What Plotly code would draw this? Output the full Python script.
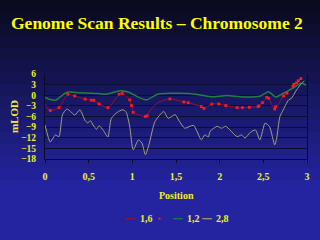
import plotly.graph_objects as go

# ---- data ----
x_16 = [0.0, 0.06, 0.16, 0.26, 0.34, 0.46, 0.53, 0.62, 0.72, 0.85, 0.885, 0.92, 0.97, 0.99, 1.01,
        1.15, 1.23, 1.30, 1.43, 1.59, 1.64, 1.79, 1.82, 1.91, 1.99, 2.07, 2.20, 2.26, 2.34, 2.44,
        2.49, 2.54, 2.56, 2.63, 2.73, 2.77, 2.84, 2.88, 2.93]
y_16 = [-2.5, -4.3, -3.5, 0.3, -0.2, -1.1, -1.4, -2.45, -3.5, 0.3, 0.56, 0.0, -1.3, -2.9, -4.8,
        -6.0, -3.5, -2.0, -1.05, -1.9, -2.1, -3.2, -3.7, -2.5, -2.45, -2.9, -3.5, -3.5, -3.4, -3.2,
        -2.1, -0.56, -0.85, -3.9, -0.2, 0.56, 2.6, 3.5, 4.7]

x_16m = [0.06, 0.16, 0.26, 0.34, 0.46, 0.53, 0.56, 0.62, 0.72, 0.85, 0.885, 0.97, 0.99, 1.01,
         1.15, 1.17, 1.43, 1.59, 1.64, 1.79, 1.82, 1.91, 1.99, 2.07, 2.20, 2.26, 2.34, 2.44, 2.45,
         2.49, 2.54, 2.56, 2.63, 2.64, 2.73, 2.77, 2.84, 2.85, 2.88, 2.90, 2.93]
y_16m = [-4.3, -3.5, 0.3, -0.2, -1.1, -1.4, -1.4, -2.45, -3.5, 0.3, 0.56, -1.3, -2.9, -4.8,
         -6.0, -5.8, -1.05, -1.9, -2.1, -3.2, -3.7, -2.5, -2.45, -2.9, -3.5, -3.5, -3.4, -3.2, -3.0,
         -2.1, -0.56, -0.85, -3.9, -3.2, -0.2, 0.56, 2.6, 3.1, 3.5, 4.1, 4.7]

x_12 = [0.0, 0.06, 0.12, 0.25, 0.40, 0.55, 0.70, 0.86, 0.97, 1.05, 1.16, 1.29, 1.45, 1.65, 1.80,
        1.91, 2.08, 2.27, 2.46, 2.56, 2.64, 2.73, 2.84, 2.93, 2.99]
y_12 = [-0.6, -1.2, -1.4, 0.85, 0.7, 0.6, 0.3, 1.3, 0.8, -0.3, -1.3, 0.3, 0.56, 0.5, 0.0,
        -0.4, -0.1, -0.5, -0.3, 1.0, -0.5, 0.56, 2.0, 3.4, 2.9]

x_28 = [0.0, 0.06, 0.10, 0.12, 0.16, 0.20, 0.25, 0.29, 0.34, 0.40, 0.46, 0.49, 0.52, 0.55, 0.59,
        0.62, 0.67, 0.72, 0.76, 0.84, 0.895, 0.93, 0.97, 1.01, 1.07, 1.11, 1.15, 1.19, 1.26, 1.36,
        1.41, 1.49, 1.54, 1.60, 1.70, 1.79, 1.83, 1.87, 1.89, 1.97, 2.02, 2.07, 2.20, 2.25, 2.29,
        2.35, 2.41, 2.46, 2.52, 2.57, 2.63, 2.65, 2.69, 2.72, 2.79, 2.82, 2.88, 2.94, 2.97]
y_28 = [-8.4, -13.2, -11.8, -11.2, -11.7, -5.5, -3.9, -4.5, -5.6, -4.1, -7.2, -7.8, -7.2, -8.4, -9.6,
        -8.6, -10.0, -11.8, -6.5, -4.6, -4.1, -4.8, -8.8, -15.4, -12.6, -13.5, -16.8, -14.0, -7.4, -4.6,
        -6.5, -5.5, -7.4, -9.3, -8.5, -12.6, -11.2, -11.8, -10.2, -8.8, -9.3, -8.8, -11.7, -11.2, -12.1,
        -10.5, -9.8, -12.6, -7.9, -8.8, -14.0, -12.5, -6.0, -4.5, -1.3, -0.9, 1.5, 3.4, 4.0]

series_names = ["1,6", "1,2", "2,8"]
x_ticks = [0, 0.5, 1, 1.5, 2, 2.5, 3]
x_tick_text = ["0", "0,5", "1", "1,5", "2", "2,5", "3"]
y_ticks = [6, 3, 0, -3, -6, -9, -12, -15, -18]

# ---- styling ----
RED_LINE = "#9a1038"
RED_MARK = "#ff1a1a"
GREEN = "#1f8040"
GRAY = "#a0a078"
YEL = "#f2f020"
FONT = "Liberation Serif"

W, H = 320, 240
L, R, T, B = 45, 13, 74, 81
PW, PH = W - L - R, H - T - B


def px2x(px):
    return (px - L) / PW


def py2y(py):
    return (H - B - py) / PH


fig = go.Figure()
fig.add_trace(go.Scatter(x=x_16, y=y_16, mode="lines", name=series_names[0],
                         line=dict(color=RED_LINE, width=1, shape="spline", smoothing=0.6),
                         showlegend=False))
fig.add_trace(go.Scatter(x=x_12, y=y_12, mode="lines", name=series_names[1],
                         line=dict(color=GREEN, width=1.5, shape="spline", smoothing=0.6),
                         showlegend=False))
fig.add_trace(go.Scatter(x=x_28, y=y_28, mode="lines", name=series_names[2],
                         line=dict(color=GRAY, width=1, shape="spline", smoothing=0.6),
                         showlegend=False))
fig.add_trace(go.Scatter(x=x_16m, y=y_16m, mode="markers", name=" ",
                         marker=dict(color=RED_MARK, size=2.8, symbol="square", line=dict(width=0)),
                         showlegend=False))

# gradient background bands
shapes = []
n = 16
for i in range(n):
    y0 = i * 12
    y1 = (i + 1) * 12
    t = min(1.0, (y0 + 6) / 185)
    r = int(10 + (36 - 10) * t)
    g = int(10 + (36 - 10) * t)
    b = int(28 + (160 - 28) * t)
    shapes.append(dict(type="rect", xref="paper", yref="paper", layer="below",
                       x0=px2x(0), x1=px2x(W), y0=py2y(y1), y1=py2y(y0),
                       fillcolor=f"rgb({r},{g},{b})", line=dict(width=0)))

# manual legend
leg_y = py2y(218.7)
legend_items = [(RED_LINE, 126, 135, 137.5, series_names[0]),
                (GREEN, 173.3, 182.7, 185, series_names[1]),
                (GRAY, 202.3, 212, 213.8, series_names[2])]
annotations = []
for col, a, b_, tx, name in legend_items:
    shapes.append(dict(type="line", xref="paper", yref="paper", x0=px2x(a), x1=px2x(b_),
                       y0=leg_y, y1=leg_y, line=dict(color=col, width=1.2)))
    annotations.append(dict(text=name, xref="paper", yref="paper", x=px2x(tx), y=leg_y,
                            xanchor="left", yanchor="middle", showarrow=False,
                            font=dict(family=FONT, size=10, color=YEL, weight="bold")))
shapes.append(dict(type="rect", xref="paper", yref="paper",
                   x0=px2x(158.5), x1=px2x(160.5), y0=py2y(219.7), y1=py2y(217.7),
                   fillcolor=RED_MARK, line=dict(width=0)))

annotations.append(dict(text="Genome Scan Results – Chromosome 2", xref="paper", yref="paper",
                        x=px2x(157), y=py2y(23.5), xanchor="center", yanchor="middle",
                        showarrow=False,
                        font=dict(family=FONT, size=17.5, color="#ffff00", weight="bold")))
annotations.append(dict(text="Position", xref="paper", yref="paper",
                        x=px2x(176), y=py2y(195), xanchor="center", yanchor="middle",
                        showarrow=False,
                        font=dict(family=FONT, size=10, color=YEL, weight="bold")))
annotations.append(dict(text="mLOD", xref="paper", yref="paper", textangle=-90,
                        x=px2x(13.5), y=py2y(116.5), xanchor="center", yanchor="middle",
                        showarrow=False,
                        font=dict(family=FONT, size=11, color=YEL, weight="bold")))

fig.update_layout(
    width=W, height=H,
    margin=dict(l=L, r=R, t=T, b=B, autoexpand=False),
    paper_bgcolor="rgb(36,36,160)",
    plot_bgcolor="rgba(0,0,0,0)",
    shapes=shapes, annotations=annotations,
    showlegend=False,
    xaxis=dict(range=[0, 3], tickvals=x_ticks, ticktext=x_tick_text, showgrid=False,
               zeroline=False, showline=True, linecolor="#0a0a2a", linewidth=1,
               ticks="outside", ticklen=3, tickcolor="#0a0a2a", ticklabelstandoff=5,
               tickfont=dict(family=FONT, size=10, color=YEL, weight="bold"), fixedrange=True),
    yaxis=dict(range=[-18, 6], tickvals=y_ticks, showgrid=True, gridcolor="#0c0c34", gridwidth=1,
               zeroline=False, showline=True, mirror=True, linecolor="#0a0a2a", linewidth=1,
               ticks="", ticklabelstandoff=6,
               tickfont=dict(family=FONT, size=9.5, color=YEL, weight="bold"), fixedrange=True),
)

fig.write_html("out.html", config=dict(displayModeBar=False))
